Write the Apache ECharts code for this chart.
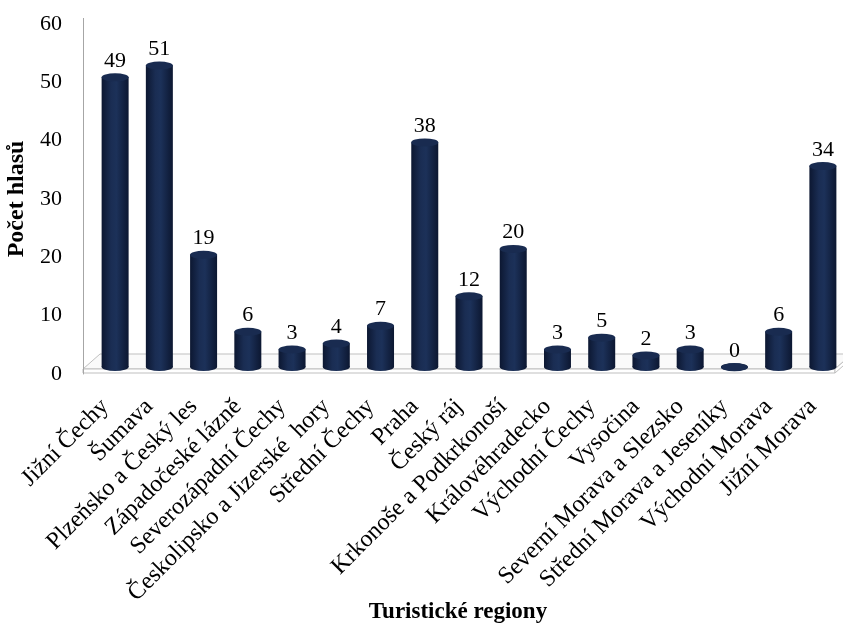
<!DOCTYPE html>
<html>
<head>
<meta charset="utf-8">
<script src="https://cdn.jsdelivr.net/npm/echarts@6/dist/echarts.min.js"></script>
<style>html,body{margin:0;padding:0;background:#fff;}#c{width:843px;height:626px;}</style>
</head>
<body>
<div id="c"></div>
<script>
const categories = ['Jižní Čechy','Šumava','Plzeňsko a Český les','Západočeské lázně','Severozápadní Čechy','Českolipsko a Jizerské  hory','Střední Čechy','Praha','Český ráj','Krkonoše a Podkrkonoší','Královéhradecko','Východní Čechy','Vysočina','Severní Morava a Slezsko','Střední Morava a Jeseníky','Východní Morava','Jižní Morava'];
const values = [49,51,19,6,3,4,7,38,12,20,3,5,2,3,0,6,34];
const yMin = 0, yMax = 60, yStep = 10;
const xTitle = 'Turistické regiony';
const yTitle = 'Počet hlasů';

const serif = '"Liberation Serif", "Times New Roman", serif';
const chart = echarts.init(document.getElementById('c'));
const bodyGrad = new echarts.graphic.LinearGradient(0,0,1,0,[
  {offset:0,color:'#0c1731'},{offset:0.35,color:'#1a2d53'},{offset:0.55,color:'#1c3159'},{offset:1,color:'#0c1731'}]);

chart.setOption({
  animation:false,
  grid:[
    {left:83, top:24, width:752, bottom:252, containLabel:false, outerBoundsMode:'none'},
    {left:93, top:12, width:752, bottom:259, containLabel:false, outerBoundsMode:'none'}
  ],
  xAxis:[
    {type:'category', gridIndex:0, data:categories, axisLine:{show:false}, axisTick:{show:false},
     axisLabel:{interval:0, rotate:45, margin:29, fontFamily:serif, fontSize:24, color:'#000'}},
    {type:'category', gridIndex:1, data:categories, show:false}
  ],
  yAxis:[
    {type:'value', gridIndex:0, min:yMin, max:yMax, interval:yStep, splitLine:{show:false},
     axisLine:{show:true, lineStyle:{color:'#a6a6a6', width:1}}, axisTick:{show:false},
     axisLabel:{margin:21, fontFamily:serif, fontSize:22, color:'#000'},
     name:yTitle, nameLocation:'middle', nameGap:54,
     nameTextStyle:{fontFamily:serif, fontWeight:'bold', fontSize:24, color:'#000'}},
    {type:'value', gridIndex:1, min:yMin, max:yMax, interval:yStep, show:false}
  ],
  graphic:[
    {type:'polygon', z:0, shape:{points:[[83,369],[835,369],[852,354],[100,354]]}, style:{fill:'#fafafa', stroke:'#bfbfbf', lineWidth:1}},
    {type:'polygon', z:0, shape:{points:[[83,369],[835,369],[835,373],[83,373]]}, style:{fill:'#ffffff', stroke:'#bfbfbf', lineWidth:1}},
    {type:'polygon', z:0, shape:{points:[[835,369],[852,354],[852,358],[835,373]]}, style:{fill:'#ffffff', stroke:'#bfbfbf', lineWidth:1}},
    {type:'line', z:0, shape:{x1:83.5,y1:18,x2:83.5,y2:369}, style:{stroke:'#a6a6a6', lineWidth:1}},
    {type:'text', z:5, x:458, y:612, style:{text:xTitle, fontFamily:serif, fontWeight:'bold', fontSize:23, fill:'#000', textAlign:'center', textVerticalAlign:'middle', verticalAlign:'middle'}}
  ],
  series:[
    {type:'bar', xAxisIndex:1, yAxisIndex:1, data:values, barWidth:27, z:3,
     itemStyle:{color:bodyGrad},
     label:{show:true, position:'top', distance:5, fontFamily:serif, fontSize:22, color:'#000'}},
    {type:'pictorialBar', xAxisIndex:1, yAxisIndex:1, data:values, symbol:'circle', symbolSize:[27,8],
     symbolPosition:'end', symbolOffset:[0,'-50%'], z:4,
     itemStyle:{color:'#192b50', borderColor:'#2a406b', borderWidth:1}},
    {type:'pictorialBar', xAxisIndex:1, yAxisIndex:1, data:values, symbol:'circle', symbolSize:[27,8],
     symbolPosition:'start', symbolOffset:[0,'50%'], z:2,
     itemStyle:{color:bodyGrad}}
  ]
});
</script>
</body>
</html>
